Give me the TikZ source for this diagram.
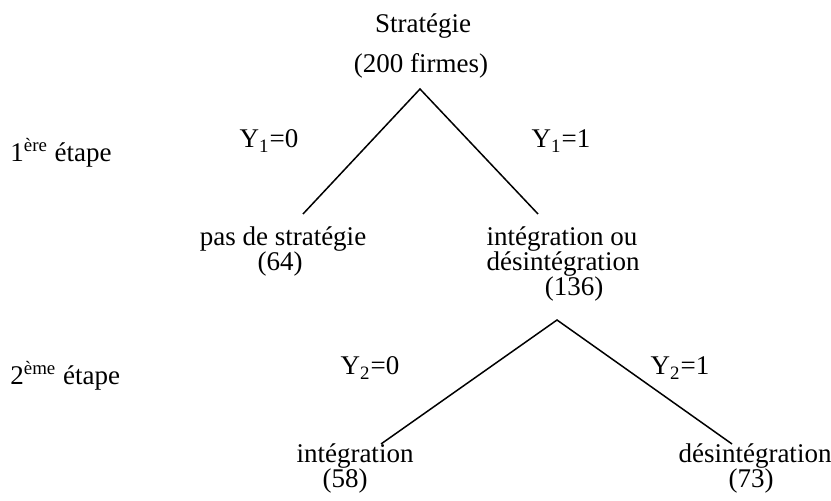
\documentclass[tikz,border=0pt]{standalone}
\usepackage{fontspec}
\setmainfont{Liberation Serif}
\usepackage{tikz}

\begin{document}
\begin{tikzpicture}[
    x=0.5pt,y=-0.5pt,
    lbl/.style={font=\fontsize{13.5}{16}\selectfont,inner sep=0pt,anchor=base},
    stage/.style={lbl,anchor=base west},
    br/.style={line width=0.75pt}
]
\useasboundingbox (0,0) rectangle (831,501);

\node[lbl] (strat) at (423,33) {Stratégie};
\node[lbl] (firmes) at (421,73) {(200 firmes)};

\node[stage] (etape1) at (10,162) {1\textsuperscript{ère} étape};
\node[stage] (etape2) at (10,385) {2\textsuperscript{ème} étape};

\node[lbl] (y10) at (269,148) {Y\textsubscript{1}=0};
\node[lbl] (y11) at (561,148) {Y\textsubscript{1}=1};

\node[lbl] (pas) at (283,246) {pas de stratégie};
\node[lbl] (pasn) at (280,271) {(64)};
\node[lbl] (intou) at (562,246) {intégration ou};
\node[lbl] (desint) at (563,271) {désintégration};
\node[lbl] (intoun) at (574,296) {(136)};

\node[lbl] (y20) at (370,375) {Y\textsubscript{2}=0};
\node[lbl] (y21) at (680,375) {Y\textsubscript{2}=1};

\node[lbl] (integ) at (355,463) {intégration};
\node[lbl] (integn) at (345,488) {(58)};
\node[lbl] (dis) at (755,463) {désintégration};
\node[lbl] (disn) at (751,488) {(73)};

\coordinate (root) at (420,89);
\coordinate (endpas) at (303,214);
\coordinate (endint) at (538,214);
\coordinate (root2) at (557,320);
\coordinate (endinteg) at (381,444);
\coordinate (enddis) at (732,444);

\draw[br] (endpas) -- (root) -- (endint);
\draw[br] (endinteg) -- (root2) -- (enddis);
\end{tikzpicture}
\end{document}
